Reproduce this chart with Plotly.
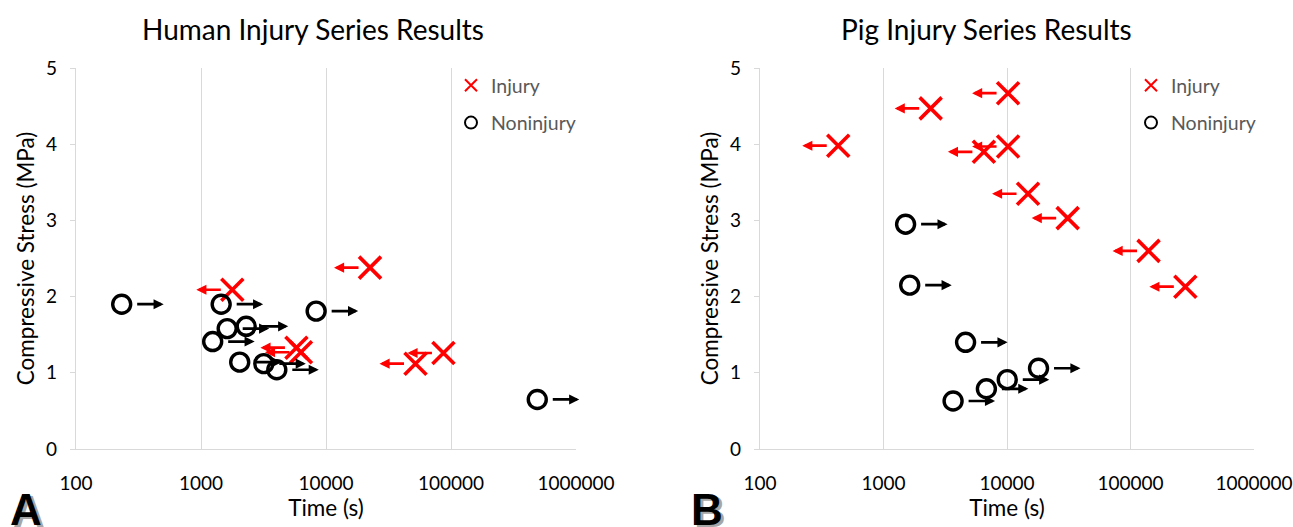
import math
import plotly.graph_objects as go

# ---------------- data ----------------
human_inj_t = [1780, 22500, 5800, 6300, 87000, 52000]
human_inj_s = [2.09, 2.38, 1.33, 1.27, 1.26, 1.12]
human_non_t = [232, 1450, 1620, 2300, 1240, 2040, 3180, 4040, 8340, 490000]
human_non_s = [1.90, 1.90, 1.58, 1.61, 1.41, 1.14, 1.12, 1.04, 1.81, 0.65]

pig_inj_t = [430, 2410, 10200, 10200, 6500, 14800, 31000, 140000, 278000]
pig_inj_s = [3.98, 4.47, 4.67, 3.97, 3.90, 3.35, 3.03, 2.60, 2.13]
pig_non_t = [1510, 1630, 4620, 3660, 6810, 10050, 18000]
pig_non_s = [2.95, 2.15, 1.40, 0.63, 0.79, 0.91, 1.06]

x_tick_vals = [100, 1000, 10000, 100000, 1000000]
x_tick_text = ["100", "1000", "10000", "100000", "1000000"]
y_tick_vals = [0, 1, 2, 3, 4, 5]

titles = ["Human Injury Series Results", "Pig Injury Series Results"]
panel_letters = ["A", "B"]

RED = "#FF0000"
BLACK = "#000000"
GRID = "#D9D9D9"
FONT = "Lato"

fig = go.Figure()

panels = [
    ("x", "y", "legend", human_inj_t, human_inj_s, human_non_t, human_non_s),
    ("x2", "y2", "legend2", pig_inj_t, pig_inj_s, pig_non_t, pig_non_s),
]

for xa, ya, lg, it, is_, nt, ns in panels:
    fig.add_trace(go.Scatter(
        x=it, y=is_, mode="markers", name="Injury", xaxis=xa, yaxis=ya,
        legend=lg, legendgroup=lg + "inj",
        marker=dict(symbol="x-thin", size=22, color=RED,
                    line=dict(color=RED, width=3.6)),
        hoverinfo="skip"))
    fig.add_trace(go.Scatter(
        x=nt, y=ns, mode="markers", name="Noninjury", xaxis=xa, yaxis=ya,
        legend=lg, legendgroup=lg + "non",
        marker=dict(symbol="circle-open", size=18, color=BLACK,
                    line=dict(color=BLACK, width=3.4)),
        hoverinfo="skip"))

annotations = []
for xa, ya, lg, it, is_, nt, ns in panels:
    # right-pointing arrows for noninjury (run-out), left for injury
    for t, s in zip(nt, ns):
        annotations.append(dict(
            x=math.log10(t), y=s, xref=xa, yref=ya, text=" ", font=dict(size=1),
            showarrow=True, ax=-27, ay=0, xshift=42,
            arrowhead=2, arrowsize=0.75, arrowwidth=2.7, arrowcolor=BLACK,
            borderpad=0))
    for t, s in zip(it, is_):
        annotations.append(dict(
            x=math.log10(t), y=s, xref=xa, yref=ya, text=" ", font=dict(size=1),
            showarrow=True, ax=25, ay=0, xshift=-36,
            arrowhead=2, arrowsize=0.75, arrowwidth=2.7, arrowcolor=RED,
            borderpad=0))

# titles
for txt, xc in zip(titles, [313 / 1293, 986 / 1293]):
    annotations.append(dict(
        text=txt, x=xc, y=1.1024, xref="paper", yref="paper",
        xanchor="center", yanchor="middle", showarrow=False,
        font=dict(family=FONT, size=28, color=BLACK)))

# panel letters (with a grey drop shadow)
for letter, xl in zip(panel_letters, [8 / 1293, 689 / 1293]):
    annotations.append(dict(
        text="<b>" + letter + "</b>", x=xl, y=-0.09, xref="paper", yref="paper",
        xanchor="left", yanchor="top", showarrow=False,
        font=dict(family="Liberation Sans", size=44, color=BLACK,
                  shadow="3px 2px 0px #A6A6A6")))

xaxis_common = dict(
    type="log", range=[2, 6], tickvals=x_tick_vals, ticktext=x_tick_text,
    showgrid=True, gridcolor=GRID, gridwidth=1.2,
    showline=True, linecolor=GRID, linewidth=1.2,
    ticks="", zeroline=False, ticklabelstandoff=17, automargin=False,
    tickfont=dict(family=FONT, size=19, color=BLACK),
    title=dict(text="Time (s)", font=dict(family=FONT, size=22.5, color=BLACK),
               standoff=7),
)
yaxis_common = dict(
    range=[0, 5], tickvals=y_tick_vals, showgrid=False, zeroline=False,
    showline=True, linecolor=GRID, linewidth=1.2,
    ticks="outside", ticklen=5, tickcolor=GRID, tickwidth=1.2,
    ticklabelstandoff=9, automargin=False,
    tickfont=dict(family=FONT, size=19, color=BLACK),
    title=dict(text="Compressive Stress (MPa)",
               font=dict(family=FONT, size=22.5, color=BLACK), standoff=5),
)

legend_common = dict(
    font=dict(family=FONT, size=19.5, color="#595959"),
    bgcolor="rgba(0,0,0,0)", borderwidth=0,
    xanchor="left", yanchor="top", xref="paper", yref="paper",
    itemsizing="constant", traceorder="grouped", tracegroupgap=9,
)

fig.update_layout(
    width=1293, height=527,
    margin=dict(l=0, r=0, t=68, b=78, autoexpand=False),
    paper_bgcolor="white", plot_bgcolor="white",
    font=dict(family=FONT),
    xaxis=dict(domain=[76 / 1293, 576 / 1293], anchor="y", **xaxis_common),
    yaxis=dict(anchor="x", **yaxis_common),
    xaxis2=dict(domain=[760 / 1293, 1254 / 1293], anchor="y2", **xaxis_common),
    yaxis2=dict(anchor="x2", **yaxis_common),
    legend=dict(x=451 / 1293, y=1.005, **legend_common),
    legend2=dict(x=1131 / 1293, y=1.005, **legend_common),
    annotations=annotations,
    showlegend=True,
)

fig.write_html("out.html")
